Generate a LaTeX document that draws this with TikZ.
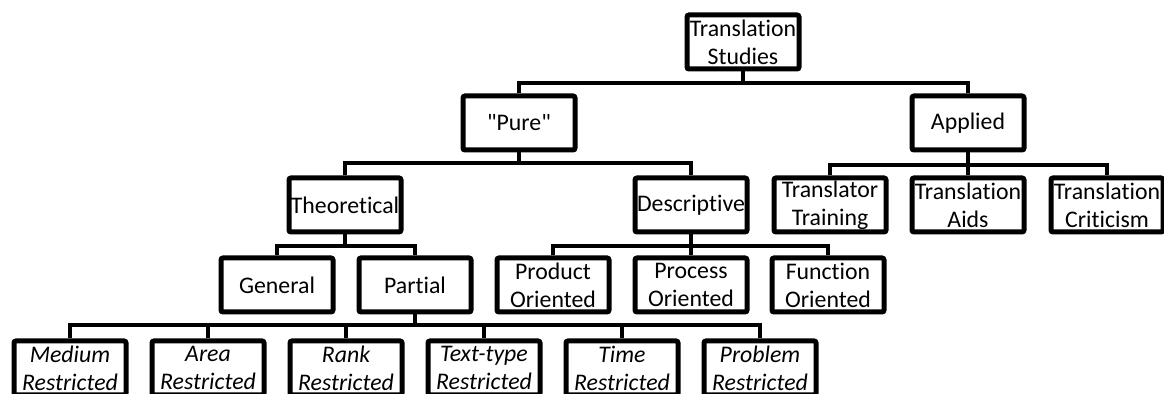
\documentclass[tikz,border=0pt]{standalone}
\usepackage{fontspec}
\setmainfont{Carlito}[Ligatures={TeXOff,NoCommon}]
\begin{document}
\begin{tikzpicture}[x=0.5pt,y=-0.5pt]
		\tikzset{
			bx/.style={draw,line width=2.5pt,rounded corners=1pt,minimum width=56pt,minimum height=27pt,
				inner sep=0pt,align=center,font=\fontsize{11.9}{14}\selectfont},
			it/.style={bx,font=\fontsize{11.9}{14}\selectfont\itshape},
			ln/.style={line width=2.3pt},
		}
		\useasboundingbox (0,0) rectangle (1164,394);
		\clip (0,0) rectangle (1164,394);
		\node[bx] (ts) at (743,42) {Translation\\Studies};
		\node[bx] (pure) at (519,123) {"Pure"};
		\node[bx] (app) at (968,123) {Applied};
		\node[bx] (theo) at (345,205) {Theoretical};
		\node[bx] (desc) at (691,205) {Descriptive};
		\node[bx] (trtr) at (830,205) {Translator\\Training};
		\node[bx] (aids) at (968,205) {Translation\\Aids};
		\node[bx] (crit) at (1107,205) {Translation\\Criticism};
		\node[bx] (gen) at (277,285) {General};
		\node[bx] (part) at (415,285) {Partial};
		\node[bx] (prod) at (553,285) {Product\\Oriented};
		\node[bx] (proc) at (691,285) {Process\\Oriented};
		\node[bx] (func) at (828,285) {Function\\Oriented};
		\node[it] (med) at (70,368) {Medium\\Restricted};
		\node[it] (area) at (208,368) {Area\\Restricted};
		\node[it] (rank) at (346,368) {Rank\\Restricted};
		\node[it] (text) at (484,368) {Text-type\\Restricted};
		\node[it] (time) at (622,368) {Time\\Restricted};
		\node[it] (prob) at (760,368) {Problem\\Restricted};
		% buses
		\coordinate (b0) at (743,83);
		\coordinate (b1) at (519,163);
		\coordinate (b2) at (968,165);
		\coordinate (b3) at (345,246);
		\coordinate (b4) at (691,246);
		\coordinate (b5) at (415,325);
		\draw[ln] (ts.south) -- (b0);
		\draw[ln] (pure.north) |- (b0) -| (app.north);
		\draw[ln] (pure.south) -- (b1);
		\draw[ln] (theo.north) |- (b1) -| (desc.north);
		\draw[ln] (app.south) -- (aids.north);
		\draw[ln] (trtr.north) |- (b2) -| (crit.north);
		\draw[ln] (theo.south) -- (b3);
		\draw[ln] (gen.north) |- (b3) -| (part.north);
		\draw[ln] (desc.south) -- (proc.north);
		\draw[ln] (prod.north) |- (b4) -| (func.north);
		\draw[ln] (part.south) -- (b5);
		\draw[ln] (med.north) |- (b5) -| (prob.north);
		\foreach \n in {area,rank,text,time} \draw[ln] (\n.north) -- (\n.north|-b5);
	\end{tikzpicture}
\end{document}
